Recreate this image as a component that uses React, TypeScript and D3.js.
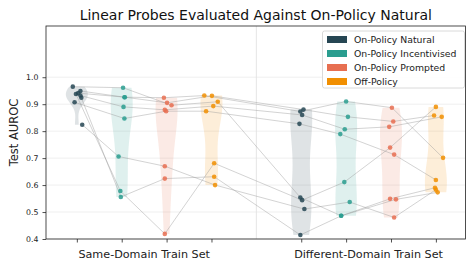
import React, { useRef, useEffect } from "react";
import * as d3 from "d3";

const W = 476;
const H = 272;
const plot = { left: 46, right: 465.5, top: 26, bottom: 239 };

const categories = ["On-Policy Natural", "On-Policy Incentivised", "On-Policy Prompted", "Off-Policy"];
const colors = ["#264653", "#2a9d8f", "#e76f51", "#f18f01"];
const trainSets = ["Same-Domain Train Set", "Different-Domain Train Set"];
const slots = [0, 1, 2, 3, 5, 6, 7, 8]; // 4 categories per train set, gap between sets
const yTicks = [0.4, 0.5, 0.6, 0.7, 0.8, 0.9, 1.0];

// one row per probe: same-domain (nat, inc, prm, off), then different-domain (nat, inc, prm, off)
const probeScores = [
  [0.824, 0.706, 0.670, 0.600, 0.511, 0.537, 0.480, 0.583],
  [0.938, 0.578, 0.419, 0.681, 0.544, 0.611, 0.739, 0.890],
  [0.924, 0.556, 0.624, 0.631, 0.415, 0.486, 0.549, 0.590],
  [0.965, 0.961, 0.896, 0.909, 0.554, 0.486, 0.547, 0.573],
  [0.949, 0.926, 0.924, 0.932, 0.873, 0.910, 0.887, 0.701],
  [0.941, 0.926, 0.905, 0.931, 0.880, 0.853, 0.836, 0.858],
  [0.932, 0.890, 0.879, 0.893, 0.860, 0.807, 0.816, 0.853],
  [0.907, 0.847, 0.874, 0.874, 0.827, 0.789, 0.713, 0.619],
];

// strip jitter, in category units
const jitter = [
  [0.12, -0.07, -0.04, 0.08, 0.07, 0.08, 0.07, 0],
  [-0.02, -0.03, -0.04, 0.06, 0.02, -0.04, -0.02, 0],
  [0.1, -0.02, -0.04, 0.06, -0.02, -0.11, -0.02, -0.02],
  [-0.09, 0.03, 0.11, 0.14, -0.02, -0.11, 0.11, 0.04],
  [0.08, 0.06, -0.06, -0.16, -0.02, 0, 0.02, 0.16],
  [0.03, 0.07, 0.01, 0.01, 0.05, 0.04, 0.05, -0.04],
  [0.08, 0.04, -0.04, 0.04, 0.02, -0.03, -0.04, 0.13],
  [-0.05, 0.06, -0.01, -0.12, -0.04, -0.13, 0.07, 0],
];

// gaussian kde, scott bandwidth, cut = 0
function kde(values: number[], n = 80) {
  const m = values.length;
  const sd = d3.deviation(values) || 0.01;
  const bw = sd * Math.pow(m, -1 / 5);
  const [lo, hi] = d3.extent(values) as [number, number];
  return d3.range(n).map((i) => {
    const v = lo + ((hi - lo) * i) / (n - 1);
    const dens = d3.sum(values, (x) => Math.exp(-0.5 * ((v - x) / bw) ** 2));
    return { v, dens };
  });
}

export default function App() {
  const svgRef = useRef<SVGSVGElement>(null);

  useEffect(() => {
    const svg = d3.select(svgRef.current);
    svg.selectAll("*").remove();
    const font = "DejaVu Sans, sans-serif";

    const x = d3.scaleLinear().domain([-0.687, 8.66]).range([plot.left, plot.right]);
    const y = d3.scaleLinear().domain([0.4, 1.19]).range([plot.bottom, plot.top]);

    // grid
    svg.append("g")
      .selectAll("line")
      .data(yTicks)
      .enter()
      .append("line")
      .attr("x1", plot.left)
      .attr("x2", plot.right)
      .attr("y1", (d) => y(d))
      .attr("y2", (d) => y(d))
      .attr("stroke", "#ebebeb")
      .attr("stroke-width", 0.8);

    svg.append("line")
      .attr("x1", x(4))
      .attr("x2", x(4))
      .attr("y1", plot.top)
      .attr("y2", plot.bottom)
      .attr("stroke", "#e0e0e0")
      .attr("stroke-width", 0.8);

    // violins
    const halfW = 11;
    slots.forEach((s, j) => {
      const vals = probeScores.map((p) => p[j]);
      const pts = kde(vals);
      const maxD = d3.max(pts, (p) => p.dens) || 1;
      const area = d3.area<{ v: number; dens: number }>()
        .y((p) => y(p.v))
        .x0((p) => x(s) - (p.dens / maxD) * halfW)
        .x1((p) => x(s) + (p.dens / maxD) * halfW)
        .curve(d3.curveBasis);
      svg.append("path")
        .attr("d", area(pts))
        .attr("fill", colors[j % 4])
        .attr("fill-opacity", 0.15);
    });

    // probe lines
    const line = d3.line<[number, number]>().x((d) => d[0]).y((d) => d[1]);
    probeScores.forEach((p, i) => {
      const coords = p.map((v, j) => [x(slots[j] + jitter[i][j]), y(v)] as [number, number]);
      svg.append("path")
        .attr("d", line(coords))
        .attr("fill", "none")
        .attr("stroke", "#9a9a9a")
        .attr("stroke-opacity", 0.55)
        .attr("stroke-width", 0.8);
    });

    // points
    probeScores.forEach((p, i) => {
      svg.append("g")
        .selectAll("circle")
        .data(p)
        .enter()
        .append("circle")
        .attr("cx", (v, j) => x(slots[j] + jitter[i][j]))
        .attr("cy", (v) => y(v))
        .attr("r", 2.3)
        .attr("fill", (v, j) => colors[j % 4])
        .attr("fill-opacity", 0.85);
    });

    // frame
    svg.append("rect")
      .attr("x", plot.left)
      .attr("y", plot.top)
      .attr("width", plot.right - plot.left)
      .attr("height", plot.bottom - plot.top)
      .attr("fill", "none")
      .attr("stroke", "#222")
      .attr("stroke-width", 0.8);

    // y axis
    const yAxis = svg.append("g")
      .attr("transform", `translate(${plot.left},0)`)
      .call(d3.axisLeft(y).tickValues(yTicks).tickFormat(d3.format(".1f")).tickSize(3.5).tickPadding(4));
    yAxis.select(".domain").remove();
    yAxis.selectAll("text").style("font-family", font).style("font-size", "7.8px").attr("fill", "#222");
    yAxis.selectAll("line").attr("stroke", "#222").attr("stroke-width", 0.8);

    // x axis
    const xAxis = svg.append("g")
      .attr("transform", `translate(0,${plot.bottom})`)
      .call(d3.axisBottom(x).tickValues(slots).tickFormat(() => "").tickSize(3.5));
    xAxis.select(".domain").remove();
    xAxis.selectAll("line").attr("stroke", "#222").attr("stroke-width", 0.8);

    trainSets.forEach((t, k) => {
      svg.append("text")
        .attr("x", x(k * 5 + 1.5))
        .attr("y", 258)
        .attr("text-anchor", "middle")
        .style("font-family", font)
        .style("font-size", "11.2px")
        .attr("fill", "#222")
        .text(t);
    });

    svg.append("text")
      .attr("transform", `translate(18,${(plot.top + plot.bottom) / 2}) rotate(-90)`)
      .attr("text-anchor", "middle")
      .style("font-family", font)
      .style("font-size", "11.5px")
      .attr("fill", "#222")
      .text("Test AUROC");

    // title
    svg.append("text")
      .attr("x", (plot.left + plot.right) / 2)
      .attr("y", 20)
      .attr("text-anchor", "middle")
      .style("font-family", font)
      .style("font-size", "14px")
      .attr("fill", "#111")
      .text("Linear Probes Evaluated Against On-Policy Natural");

    // legend
    const lg = svg.append("g").attr("transform", "translate(322.5,31)");
    lg.append("rect")
      .attr("width", 142)
      .attr("height", 57)
      .attr("rx", 2)
      .attr("fill", "white")
      .attr("fill-opacity", 0.85)
      .attr("stroke", "#d0d0d0")
      .attr("stroke-width", 0.8);
    categories.forEach((c, i) => {
      lg.append("rect")
        .attr("x", 4.5)
        .attr("y", 5 + i * 14)
        .attr("width", 20)
        .attr("height", 7)
        .attr("fill", colors[i]);
      lg.append("text")
        .attr("x", 31.5)
        .attr("y", 11.8 + i * 14)
        .style("font-family", font)
        .style("font-size", "9.3px")
        .attr("fill", "#222")
        .text(c);
    });
  }, []);

  return (
    <div style={{ position: "absolute", left: 0, top: 0 }}>
      <svg ref={svgRef} width={W} height={H} style={{ display: "block", background: "white" }} />
    </div>
  );
}
